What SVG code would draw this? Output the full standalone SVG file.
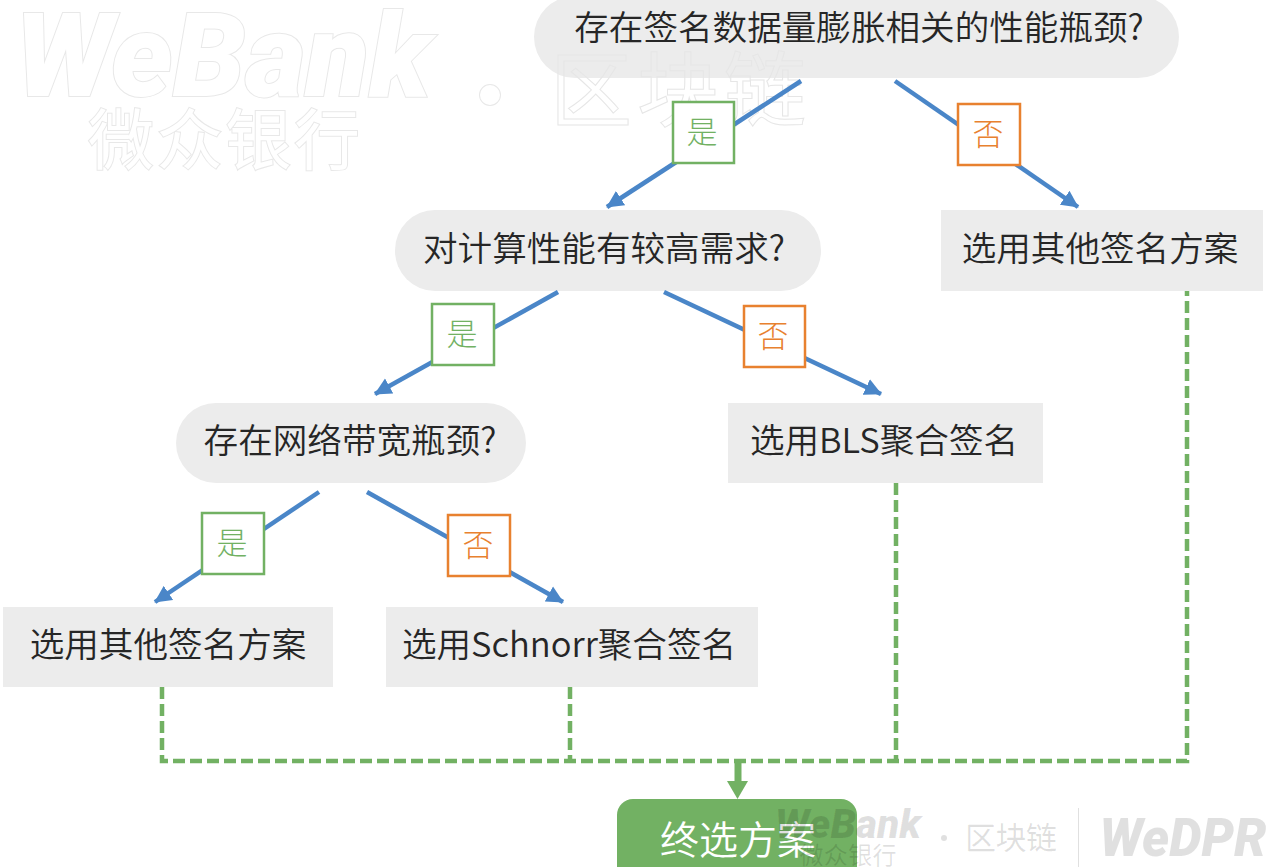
<svg xmlns="http://www.w3.org/2000/svg" width="1280" height="867" viewBox="0 0 1280 867">
<defs>
<marker id="ah" viewBox="0 0 10 10" refX="9.5" refY="5" markerWidth="3.8" markerHeight="4" orient="auto"><path d="M0 0L10 5L0 10Z" fill="#4a86c8"/></marker>
</defs>
<style>
text{font-family:"Noto Sans CJK SC","Noto Sans",sans-serif;text-anchor:middle}
.n{fill:#ececec}
.t{font-size:34.6px;fill:#262626;font-weight:350}
.c{fill:none;stroke:#4a86c8;stroke-width:4.5;marker-end:url(#ah)}
.d{fill:none;stroke:#72b163;stroke-width:4.5;stroke-dasharray:12 5}
.y{fill:#fff;stroke:#72b163;stroke-width:2.5}
.no{fill:#fff;stroke:#e8812f;stroke-width:2.5}
.yt{font-size:31px;fill:#72b163;font-weight:300}
.nt{font-size:31px;fill:#e8812f;font-weight:300}
.wl{fill:#fff;stroke:#e8e8e8;stroke-width:2;paint-order:stroke}
.wd{fill:#000;fill-opacity:.12}
.lat{font-family:Roboto,"Liberation Sans",sans-serif;font-weight:900;font-style:italic}
</style>
<rect width="1280" height="867" fill="#fff"/>
<g id="wm-top">
<text class="wl lat" x="223" y="96" font-size="116" textLength="416" lengthAdjust="spacingAndGlyphs">WeBank</text>
<text class="wl" x="224" y="164" font-size="66" textLength="272">微众银行</text>
<circle class="wl" cx="490" cy="95" r="10"/>
</g>
<g id="n1"><rect class="n" x="534" y="-4" width="645" height="82" rx="41"/><text class="t" x="859" y="40">存在签名数据量膨胀相关的性能瓶颈?</text></g>
<g id="wm-top2"><text x="678" y="120" font-size="82" textLength="256" fill="none" stroke="#e6e6e6" stroke-width="1">区块链</text></g>
<g id="n2"><rect class="n" x="395" y="210" width="426" height="81" rx="40"/><text class="t" x="604" y="261">对计算性能有较高需求?</text></g>
<g id="n3"><rect class="n" x="941" y="210" width="322" height="81"/><text class="t" x="1100" y="261">选用其他签名方案</text></g>
<g id="n4"><rect class="n" x="176" y="403" width="350" height="80" rx="40"/><text class="t" x="350" y="453">存在网络带宽瓶颈?</text></g>
<g id="n5"><rect class="n" x="728" y="403" width="315" height="80"/><text class="t" x="884" y="453">选用BLS聚合签名</text></g>
<g id="n6"><rect class="n" x="3" y="607" width="330" height="80"/><text class="t" x="168" y="657">选用其他签名方案</text></g>
<g id="n7"><rect class="n" x="386" y="607" width="372" height="80"/><text class="t" x="569" y="657">选用Schnorr聚合签名</text></g>
<g id="connectors">
<path class="c" d="M801 81L607 207"/>
<path class="c" d="M895 81L1078 207"/>
<path class="c" d="M558 292L375 394"/>
<path class="c" d="M664 292L881 394"/>
<path class="c" d="M319 492L155 602"/>
<path class="c" d="M367 492L563 602"/>
<path class="d" d="M162 687V761H1187V291"/>
<path class="d" d="M570 687V761"/>
<path class="d" d="M896 483V761"/>
<path d="M738 761V782" stroke="#72b163" stroke-width="7" fill="none"/>
<path d="M727 781H748L737.500 799Z" fill="#72b163"/>
</g>
<g id="l1"><rect class="y" x="673" y="102" width="61" height="61"/><text class="yt" x="702" y="143">是</text></g>
<g id="l2"><rect class="no" x="958" y="104" width="62" height="61"/><text class="nt" x="988" y="145">否</text></g>
<g id="l3"><rect class="y" x="432" y="304" width="62" height="61"/><text class="yt" x="462" y="345">是</text></g>
<g id="l4"><rect class="no" x="744" y="306" width="61" height="61"/><text class="nt" x="773" y="347">否</text></g>
<g id="l5"><rect class="y" x="202" y="513" width="62" height="61"/><text class="yt" x="232" y="554">是</text></g>
<g id="l6"><rect class="no" x="448" y="515" width="62" height="61"/><text class="nt" x="478" y="556">否</text></g>
<g id="n8"><rect x="617" y="799" width="240" height="90" rx="16" fill="#72b163"/><text x="738" y="854" font-size="39" fill="#fff" font-weight="350">终选方案</text></g>
<g id="wm-bottom">
<text class="wd lat" x="848" y="838" font-size="41" textLength="146" lengthAdjust="spacingAndGlyphs">WeBank</text>
<text class="wd" x="848" y="864" font-size="24" textLength="97">微众银行</text>
<circle class="wd" cx="944" cy="838" r="3"/>
<text class="wd" x="1011" y="849" font-size="31" textLength="92">区块链</text>
<rect class="wd" x="1078" y="808" width="1" height="59"/>
<text class="wd lat" x="1183" y="856" font-size="54" textLength="167" lengthAdjust="spacingAndGlyphs">WeDPR</text>
</g>
</svg>
